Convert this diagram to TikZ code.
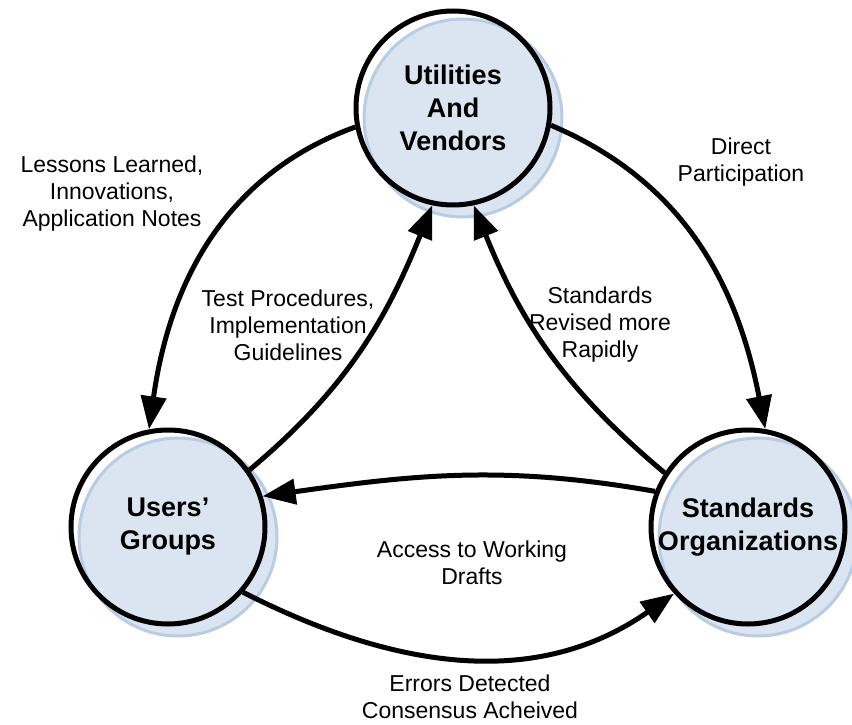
\documentclass[tikz,border=0pt]{standalone}
\usepackage{fontspec}
\setmainfont{Liberation Sans}
\usetikzlibrary{arrows.meta}
\definecolor{discfill}{RGB}{219,228,241}
\definecolor{discedge}{RGB}{184,204,228}

\begin{document}
\begin{tikzpicture}[x=1pt, y=1pt,
    disc/.style={circle, fill=discfill, draw=discedge, line width=3pt, minimum size=198pt, inner sep=0pt},
    party/.style={circle, draw, line width=5pt, minimum size=194pt, inner sep=0pt, align=center,
                  font=\fontsize{27pt}{33pt}\selectfont\bfseries},
    note/.style={align=center, font=\fontsize{23pt}{27pt}\selectfont},
    flow/.style={line width=5pt, -{Triangle[length=33pt,width=25pt]}}]
  \useasboundingbox (0,0) rectangle (852,724);

  % shaded discs behind the three parties
  \node[disc] (uvbg) at (463,606) {};
  \node[disc] (ugbg) at (178,187) {};
  \node[disc] (sobg) at (758,187) {};

  \node[party] (uv) at (453,616) {Utilities\\And\\Vendors};
  \node[party] (ug) at (168,197) {Users'\\Groups};
  \node[party] (so) at (748,197) {Standards\\Organizations};

  \draw[flow] (uv.191) to[out=200, in=82] (ug.101);
  \draw[flow] (uv.350) to[out=-23, in=101] (so.80);
  \draw[flow] (ug.35) to[out=40, in=248] (uv.258);
  \draw[flow] (so.147) to[out=140, in=292] (uv.282);
  \draw[flow] (so.159) to[out=170, in=8] (ug.18);
  \draw[flow] (ug.-41) to[out=-27, in=215] (so.222);

  \node[note] (lessons) at (112,530) {Lessons Learned,\\Innovations,\\Application Notes};
  \node[note] (direct) at (741,562) {Direct\\Participation};
  \node[note] (tests) at (288,399) {Test Procedures,\\Implementation\\Guidelines};
  \node[note] (revised) at (600,399) {Standards\\Revised more\\Rapidly};
  \node[note] (drafts) at (472,161) {Access to Working\\Drafts};
  \node[note] (errors) at (470,27) {Errors Detected\\Consensus Acheived};
\end{tikzpicture}
\end{document}
